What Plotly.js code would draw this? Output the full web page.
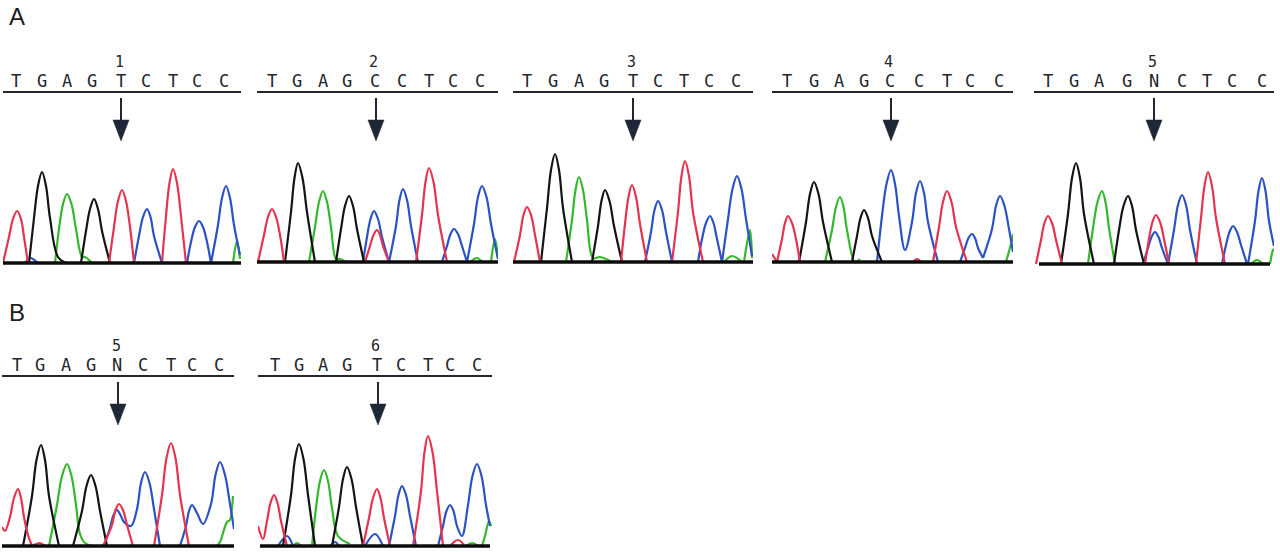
<!DOCTYPE html>
<html><head><meta charset="utf-8">
<script src="https://cdn.plot.ly/plotly-3.0.1.min.js"></script>
<style>html,body{margin:0;padding:0;background:#fff}#c{width:1280px;height:552px}</style>
</head><body><div id="c"></div>
<script>
const sequenceA=["T","G","A","G","T","C","T","C","C"];
const sequenceC=["T","G","A","G","C","C","T","C","C"];
const sequenceN=["T","G","A","G","N","C","T","C","C"];
const N=null;
// ---- trace 1
const t1Tx=[3,9,13,17,21,24,28,N,109,114,118,122,126,130,134,N,162,166,169.5,173,177,181,186];
const t1Ty=[0,26,44,52,44,26,0,N,0,36,62,73,62,36,0,N,0,47,80,94,80,47,0];
const t1Gx=[29,34,38,42,46,50,58,66,N,81,86,90,94,98,102,110];
const t1Gy=[0,45,77,91,77,45,6,0,N,0,32,54,64,54,32,0];
const t1Ax=[55,59,63,67,71.5,76,82,85,92,N,233,237,240];
const t1Ay=[0,34,59,69,59,34,6,6,0,N,0,22,4];
const t1Cx=[25,30,38,N,134,139,143,147,150.5,154,162,N,187,191,195,199,203,207,211,N,211,218,222,226,230,234,240];
const t1Cy=[0,5,0,N,0,27,46,54,46,27,0,N,0,21,36,42,36,21,0,N,0,38,65,77,65,38,8];
// ---- trace 2
const t2Tx=[258,264,268,272,276,280,284,N,365,370,373.5,377,380,383,389,N,416,422,425.5,429,433.5,438,447];
const t2Ty=[0,27,45,53,45,27,0,N,0,16,27,32,27,16,0,N,0,47,80,94,80,47,0];
const t2Gx=[285,291,294.5,298,302.5,307,315,N,336,341,345,349,353,357,364];
const t2Gy=[0,50,84,99,84,50,0,N,0,33,56,66,56,33,0];
const t2Ax=[309,315,319,323,327,331,336,340,346,N,470,477,482,N,491,495,498];
const t2Ay=[0,35,60,71,60,35,3,3,0,N,0,4,0,N,0,23,4];
const t2Cx=[363,367,370.5,374,378,382,389,N,389,396,399.5,403,407,411,418,N,442,447,450.5,454,458,462,467,N,467,474,478,482,486.5,491,498];
const t2Cy=[0,25,43,51,43,25,0,N,0,36,62,73,62,36,0,N,0,16,28,33,28,16,0,N,0,38,65,76,65,38,3];
// ---- trace 3
const t3Tx=[514,520,523.5,527,531,535,540,N,621,625,628.5,632,636,640,647,N,672,678,681.5,685,689,693,703];
const t3Ty=[0,27,47,55,47,27,0,N,0,38,65,77,65,38,0,N,0,50,86,101,86,50,0];
const t3Gx=[541,547,551,555,559,563,572,N,592,598,601.5,605,609.5,614,622];
const t3Gy=[0,54,92,108,92,54,0,N,0,36,61,72,61,36,0];
const t3Ax=[566,572,575.5,579,583,587,593,600,612,N,724,732,742,N,744,750,752];
const t3Ay=[0,42,72,85,72,42,4,5,0,N,0,6,0,N,0,32,4];
const t3Cx=[645,651,654.5,658,662,666,672,N,698,702,706,710,713.5,717,722,N,722,728,732.5,737,741.5,746,752];
const t3Cy=[0,30,52,61,52,30,0,N,0,23,39,46,39,23,0,N,0,43,73,86,73,43,6];
// ---- trace 4
const t4Tx=[772,777,N,777,782,785,788,792,796,800,N,913,917,921,N,933,939,943,947,951.5,956,967];
const t4Ty=[8,0,N,0,23,39,46,39,23,0,N,0,3,0,N,0,35,60,71,60,35,0];
const t4Gx=[799,806,810,814,818.5,823,832,N,852,857,860.5,864,868,872,882];
const t4Gy=[0,40,68,80,68,40,0,N,0,26,44,52,44,26,0];
const t4Ax=[825,832,836,840,843.5,847,855,860,N,1006,1012,1013];
const t4Ay=[0,32,55,65,55,32,0,3,N,0,22,28];
const t4Cx=[877,882,886.5,891,895,899,905,912,916,920,924,928,938,N,960,965,968.5,972,975,978,983,N,983,992,996,1000,1004.5,1009,1013];
const t4Cy=[0,46,78,92,78,46,12,40,69,81,69,40,0,N,0,14,24,28,24,14,4,N,4,33,56,66,56,33,10];
// ---- trace 5 (panel A)
const t5Tx=[1036,1041,1044.5,1048,1052,1056,1062,N,1145,1149,1152.5,1156,1160,1164,1169,N,1196,1201,1204.5,1208,1212,1216,1225];
const t5Ty=[0,24,41,48,41,24,0,N,0,25,42,49,42,25,0,N,0,46,78,92,78,46,0];
const t5Gx=[1061,1068,1072,1076,1080,1084,1094,N,1114,1119,1123.5,1128,1132,1136,1144];
const t5Gy=[0,50,86,101,86,50,0,N,0,34,58,68,58,34,0];
const t5Ax=[1088,1093,1097.5,1102,1105.5,1109,1115,N,1251,1257,1263,N,1270,1273,1274];
const t5Ay=[0,36,62,73,62,36,0,N,0,4,0,N,0,14,15];
const t5Cx=[1143,1148,1151.5,1155,1158.5,1162,1168,N,1168,1174,1178,1182,1186,1190,1197,N,1222,1226,1229.5,1233,1237,1241,1247,N,1248,1255,1258.5,1262,1265.5,1269,1274];
const t5Cy=[0,16,27,32,27,16,0,N,0,34,59,69,59,34,0,N,0,19,32,38,32,19,0,N,0,43,73,86,73,43,18];
// ---- trace 5 (panel B)
const b5Tx=[2,5,10,14,18,21,24,28,32,N,32,40,45,N,103,112,115.5,119,123,127,133,N,154,162,166.5,171,175.5,180,189];
const b5Ty=[19,15,29,48,57,48,29,11,0,N,0,3,0,N,0,21,36,42,36,21,0,N,0,51,88,103,88,51,0];
const b5Gx=[23,32,36.5,41,45,49,59,N,73,82,86.5,91,95.5,100,107];
const b5Gy=[0,50,86,101,86,50,0,N,0,35,60,71,60,35,0];
const b5Ax=[49,57,62,67,71.5,76,80,85,93,N,217,220,227,230,232,233];
const b5Ay=[0,41,70,82,70,41,12,3,0,N,0,4,24,26,38,50];
const b5Cx=[104,110,113.5,117,120.5,124,131,137,141,145,149.5,154,160,N,180,186,189,192,197,203,211,215.5,220,225,230,234];
const b5Cy=[0,18,31,36,31,24,20,37,63,74,63,37,0,N,0,20,35,41,33,22,42,71,84,71,42,17];
// ---- trace 6
const b6Tx=[258,263,267,270.5,274,277.5,281,287,N,363,369,373,377,380.5,384,390,N,413,421,424.5,428,432.5,437,443,N,450,458,465];
const b6Ty=[20,7,25,43,51,43,25,0,N,0,28,48,57,48,28,0,N,0,55,94,110,94,55,0,N,0,6,0];
const b6Gx=[283,291,295,299,303.5,308,315,N,332,339,343,347,351.5,356,363];
const b6Gy=[0,51,87,102,87,51,0,N,0,39,67,79,67,39,0];
const b6Ax=[312,316,320,324,328,332,338,350,N,293,297,301,N,466,472,478,N,482,485,489,491];
const b6Ay=[0,38,65,76,65,38,10,2,N,0,3,0,N,0,3,0,N,0,10,25,20];
const b6Cx=[278,287,293,N,331,335,339,N,365,375,383,N,389,395,398.5,402,406,410,416,N,438,443,446.5,450,453.5,457,462,468,472.5,477,481.5,486,490];
const b6Cy=[0,10,0,N,0,4,0,N,0,12,0,N,0,30,51,60,51,30,0,N,0,20,35,41,35,20,10,41,70,82,70,41,20];

// ---- panel frames and annotations
const frameLeft=[3,257,513,772,1034,2,258];
const frameRight=[241,498,753,1013,1274,234,492];
const ruleRow=[93,93,93,93,93,377,377];
const baseRow=[263,262,262,262,264,546,546];
const baseLeft=[3,256,513,772,1039,2,260];
const baseRight=[241,498,753,1013,1270,234,490];
const callNumbers=["1","2","3","4","5","5","6"];
const callPos=[119,373,631,888,1152,116,375];
const callRow=[62,62,62,62,62,346,346];
const arrowPos=[121,376,633,891,1154,118,378];
const sequences=[sequenceA,sequenceC,sequenceA,sequenceC,sequenceN,sequenceN,sequenceA];
const letterPos=[
 [16,42,67,92,121,146,173,197,224],
 [272,297,323,347,375,402,429,453,480],
 [527,553,579,604,633,658,684,709,736],
 [787,814,839,864,890,919,947,970,999],
 [1048,1074,1099,1127,1154,1182,1207,1232,1262],
 [17,40,66,91,117,143,171,192,219],
 [275,299,323,347,377,401,428,450,477]];
const tracesT=[[t1Tx,t1Ty],[t2Tx,t2Ty],[t3Tx,t3Ty],[t4Tx,t4Ty],[t5Tx,t5Ty],[b5Tx,b5Ty],[b6Tx,b6Ty]];
const tracesG=[[t1Gx,t1Gy],[t2Gx,t2Gy],[t3Gx,t3Gy],[t4Gx,t4Gy],[t5Gx,t5Gy],[b5Gx,b5Gy],[b6Gx,b6Gy]];
const tracesA=[[t1Ax,t1Ay],[t2Ax,t2Ay],[t3Ax,t3Ay],[t4Ax,t4Ay],[t5Ax,t5Ay],[b5Ax,b5Ay],[b6Ax,b6Ay]];
const tracesC=[[t1Cx,t1Cy],[t2Cx,t2Cy],[t3Cx,t3Cy],[t4Cx,t4Cy],[t5Cx,t5Cy],[b5Cx,b5Cy],[b6Cx,b6Cy]];

const W=1280,H=552,INK="#23262e",ARROW="#1d2736";
const colours={T:"#e5344f",G:"#141414",A:"#35b82c",C:"#2b52c4"};
const data=[],annotations=[];
const layout={width:W,height:H,margin:{l:0,r:0,t:0,b:0},paper_bgcolor:"#fff",plot_bgcolor:"rgba(0,0,0,0)",showlegend:false};

frameLeft.forEach((x0,i)=>{
  const k=i+1, xa=k===1?"x":"x"+k, ya=k===1?"y":"y"+k;
  const top=baseRow[i]-ruleRow[i];
  const below=5;
  layout["xaxis"+(k===1?"":k)]={domain:[x0/W,frameRight[i]/W],range:[x0,frameRight[i]],side:"top",anchor:ya,
    showgrid:false,zeroline:false,showline:true,linecolor:INK,linewidth:2,ticks:"",ticklabelstandoff:-3,
    tickmode:"array",tickvals:letterPos[i],ticktext:sequences[i],
    tickfont:{family:"DejaVu Sans Mono",size:17,color:"#22252b"},fixedrange:true};
  layout["yaxis"+(k===1?"":k)]={domain:[1-(baseRow[i]+below)/H,1-ruleRow[i]/H],range:[-below,top],anchor:xa,
    visible:false,fixedrange:true};
  const add=(pair,c)=>data.push({type:"scatter",mode:"lines",x:pair[0],y:pair[1],xaxis:xa,yaxis:ya,hoverinfo:"skip",
    line:{color:c,width:2.2,shape:"spline",smoothing:1}});
  add(tracesA[i],colours.A);add(tracesC[i],colours.C);add(tracesG[i],colours.G);add(tracesT[i],colours.T);
  data.push({type:"scatter",mode:"lines",x:[baseLeft[i],baseRight[i]],y:[0,0],xaxis:xa,yaxis:ya,hoverinfo:"skip",
    line:{color:"#0c0c0c",width:3.5}});
  const ax=arrowPos[i];
  data.push({type:"scatter",mode:"lines",x:[ax,ax],y:[top-5,top-30],xaxis:xa,yaxis:ya,hoverinfo:"skip",line:{color:ARROW,width:2}});
  data.push({type:"scatter",mode:"lines",x:[ax-8,ax+8,ax,ax-8],y:[top-27,top-27,top-48,top-27],xaxis:xa,yaxis:ya,hoverinfo:"skip",
    fill:"toself",fillcolor:ARROW,line:{color:ARROW,width:0.5}});
  annotations.push({xref:xa,yref:"paper",x:callPos[i],y:1-callRow[i]/H,text:callNumbers[i],showarrow:false,
    font:{family:"DejaVu Sans Mono",size:15,color:"#22252b"},xanchor:"center",yanchor:"middle"});
});
annotations.push({xref:"paper",yref:"paper",x:7/W,y:1-16/H,text:"A",showarrow:false,xanchor:"left",yanchor:"middle",
  font:{family:"Liberation Sans",size:24,color:"#1c1c1c"}});
annotations.push({xref:"paper",yref:"paper",x:7/W,y:1-312/H,text:"B",showarrow:false,xanchor:"left",yanchor:"middle",
  font:{family:"Liberation Sans",size:24,color:"#1c1c1c"}});
layout.annotations=annotations;
Plotly.newPlot("c",data,layout,{displayModeBar:false,staticPlot:true});
</script></body></html>
